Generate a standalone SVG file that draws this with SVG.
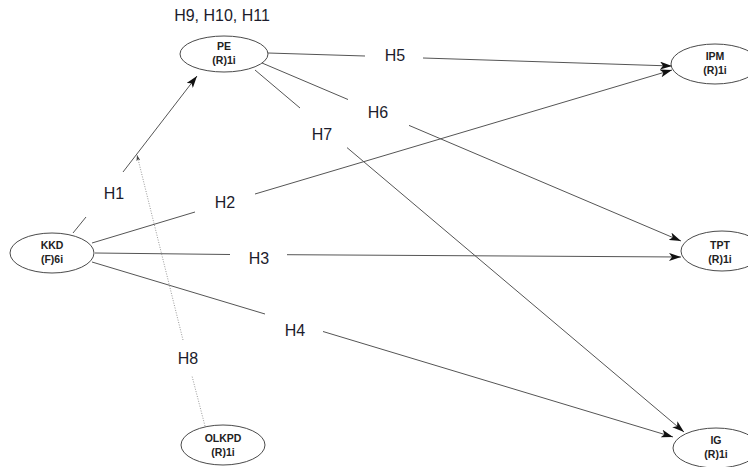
<svg xmlns="http://www.w3.org/2000/svg" width="748" height="467" viewBox="0 0 748 467">
<style>
.node ellipse{fill:#fff;stroke:#4a4a4a;stroke-width:1}
.node text{font-family:"Liberation Sans",Arial,sans-serif;font-weight:bold;font-size:10.5px;fill:#222;text-anchor:middle}
.edge{fill:none;stroke:#555;stroke-width:1}
.mod{fill:none;stroke:#999;stroke-width:1;stroke-dasharray:1 1.5}
.lbl{font-family:"Liberation Sans",Arial,sans-serif;font-size:16px;fill:#1c1c2c;text-anchor:middle}
</style>
<defs>
<marker id="arr" viewBox="0 0 12 8" refX="12" refY="4" markerWidth="12" markerHeight="8" orient="auto" markerUnits="userSpaceOnUse"><path d="M0,0 L12,4 L0,8 L3,4 z" fill="#111"/></marker>
<marker id="arrs" viewBox="0 0 6 4" refX="6" refY="2" markerWidth="6" markerHeight="4" orient="auto" markerUnits="userSpaceOnUse"><path d="M0,0 L6,2 L0,4 L1.5,2 z" fill="#444"/></marker>
</defs>
<rect width="748" height="467" fill="#fff"/>
<g id="connectors">
<path class="edge" d="M73,233 L86,217"/>
<path class="edge" d="M123,172 L197,76" marker-end="url(#arr)"/>
<path class="edge" d="M92,243 L195,212"/>
<path class="edge" d="M255,194 L672,70" marker-end="url(#arr)"/>
<path class="edge" d="M95,253 L230,254.5"/>
<path class="edge" d="M287,254.7 L681,257" marker-end="url(#arr)"/>
<path class="edge" d="M92,262 L265,314"/>
<path class="edge" d="M323,331.5 L673,437" marker-end="url(#arr)"/>
<path class="edge" d="M268,53 L365,56"/>
<path class="edge" d="M423,58 L672,66" marker-end="url(#arr)"/>
<path class="edge" d="M262,63 L348,99.5"/>
<path class="edge" d="M409,125.4 L681,241" marker-end="url(#arr)"/>
<path class="edge" d="M255,70 L300,108"/>
<path class="edge" d="M347,147.6 L684,432" marker-end="url(#arr)"/>
<path class="mod" d="M205,426 L192,376"/>
<path class="mod" d="M183,340 L137,155" marker-end="url(#arrs)"/>
<text class="lbl" x="222" y="21">H9, H10, H11</text>
<text class="lbl" x="114" y="199">H1</text>
<text class="lbl" x="225" y="208">H2</text>
<text class="lbl" x="259" y="264">H3</text>
<text class="lbl" x="295" y="336">H4</text>
<text class="lbl" x="395" y="61">H5</text>
<text class="lbl" x="378" y="118">H6</text>
<text class="lbl" x="322" y="140">H7</text>
<text class="lbl" x="188" y="364">H8</text>
</g>
<g id="PE" class="node"><ellipse cx="224" cy="54" rx="44" ry="18"/><text x="224" y="50">PE</text><text x="224" y="64">(R)1i</text></g>
<g id="IPM" class="node"><ellipse cx="715" cy="64" rx="44" ry="20"/><text x="715" y="60">IPM</text><text x="715" y="74">(R)1i</text></g>
<g id="KKD" class="node"><ellipse cx="52" cy="253" rx="42" ry="20"/><text x="52" y="249">KKD</text><text x="52" y="263">(F)6i</text></g>
<g id="TPT" class="node"><ellipse cx="722" cy="251" rx="41" ry="20"/><text x="720" y="249">TPT</text><text x="720" y="263">(R)1i</text></g>
<g id="OLKPD" class="node"><ellipse cx="223" cy="445" rx="42" ry="20"/><text x="223" y="442">OLKPD</text><text x="223" y="456">(R)1i</text></g>
<g id="IG" class="node"><ellipse cx="716" cy="448" rx="43" ry="20"/><text x="716" y="444">IG</text><text x="716" y="458">(R)1i</text></g>
</svg>
